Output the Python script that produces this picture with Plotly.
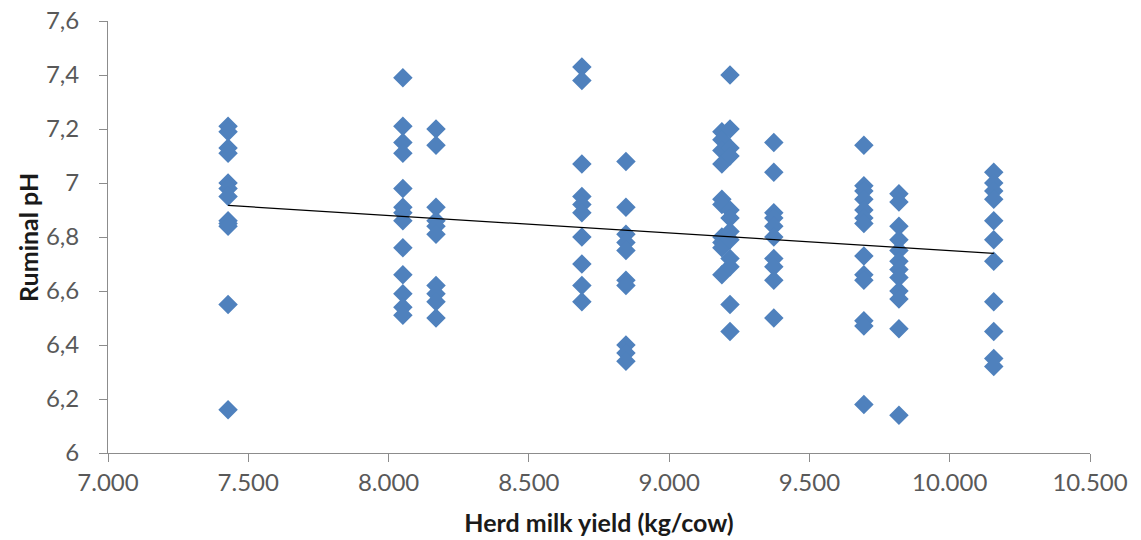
import numpy as np
import plotly.graph_objects as go

# Herd milk yield (kg/cow) per herd and the ruminal pH readings of that herd
herd_yield = [7428, 8051, 8169, 8689, 8846, 9188, 9217, 9373, 9694, 9819, 10157]
ph_values = [
    [7.21, 7.19, 7.13, 7.11, 7.00, 6.98, 6.95, 6.86, 6.85, 6.84, 6.55, 6.16],
    [7.39, 7.21, 7.15, 7.11, 6.98, 6.91, 6.89, 6.86, 6.76, 6.66, 6.59, 6.54, 6.51],
    [7.20, 7.14, 6.91, 6.86, 6.84, 6.81, 6.62, 6.59, 6.56, 6.50],
    [7.43, 7.38, 7.07, 6.95, 6.92, 6.89, 6.80, 6.70, 6.62, 6.56],
    [7.08, 6.91, 6.81, 6.78, 6.75, 6.64, 6.62, 6.40, 6.37, 6.34],
    [7.19, 7.16, 7.12, 7.07, 6.94, 6.92, 6.80, 6.78, 6.76, 6.66],
    [7.40, 7.20, 7.13, 7.10, 6.90, 6.87, 6.82, 6.79, 6.72, 6.69, 6.55, 6.45],
    [7.15, 7.04, 6.89, 6.87, 6.84, 6.80, 6.72, 6.69, 6.64, 6.50],
    [7.14, 6.99, 6.97, 6.94, 6.90, 6.87, 6.85, 6.73, 6.66, 6.64, 6.49, 6.47, 6.18],
    [6.96, 6.93, 6.84, 6.79, 6.75, 6.71, 6.68, 6.65, 6.60, 6.57, 6.46, 6.14],
    [7.04, 7.00, 6.97, 6.94, 6.86, 6.79, 6.71, 6.56, 6.45, 6.35, 6.32],
]
x_title = "Herd milk yield (kg/cow)"
y_title = "Ruminal pH"

xs, ys = [], []
for hy, vals in zip(herd_yield, ph_values):
    xs += [hy] * len(vals)
    ys += vals
xs = np.array(xs, dtype=float)
ys = np.array(ys, dtype=float)

slope, intercept = np.polyfit(xs, ys, 1)
trend_x = np.array([xs.min(), xs.max()])
trend_y = slope * trend_x + intercept

fig = go.Figure()
fig.add_trace(go.Scatter(
    x=xs, y=ys, mode="markers",
    marker=dict(symbol="diamond", size=15, color="#4F81BD", line=dict(width=0)),
    showlegend=False, hoverinfo="x+y",
))
fig.add_trace(go.Scatter(
    x=trend_x, y=trend_y, mode="lines",
    line=dict(color="#000000", width=1.2),
    showlegend=False, hoverinfo="skip",
))

axis_common = dict(
    showgrid=False, zeroline=False, showline=True, linecolor="#8C8C8C", linewidth=1,
    ticks="outside", ticklen=8, tickcolor="#8C8C8C", automargin=False,
    ticklabeloverflow="allow",
    tickfont=dict(family="Lato", size=24, color="#595959"),
)
title_font = dict(family="Lato", size=25, color="#1A1A1A")
fig.update_layout(
    width=1133, height=532,
    margin=dict(l=100, r=51, t=13, b=87),
    paper_bgcolor="white", plot_bgcolor="white",
    separators=",.",
    xaxis=dict(
        range=[7000, 10500], tickmode="linear", tick0=7000, dtick=500,
        separatethousands=True, tickformat=",d",
        title=dict(text="<b>" + x_title + "</b>", font=title_font, standoff=19),
        **axis_common,
    ),
    yaxis=dict(
        range=[6, 7.6], tickmode="linear", tick0=6, dtick=0.2,
        ticksuffix="\u2002\u2009",
        **axis_common,
    ),
    annotations=[dict(
        text="<b>" + y_title + "</b>", font=title_font, textangle=-90,
        xref="paper", yref="paper", x=-0.0815, y=0.5,
        xanchor="center", yanchor="middle", showarrow=False,
    )],
)

fig.write_html("out.html")
